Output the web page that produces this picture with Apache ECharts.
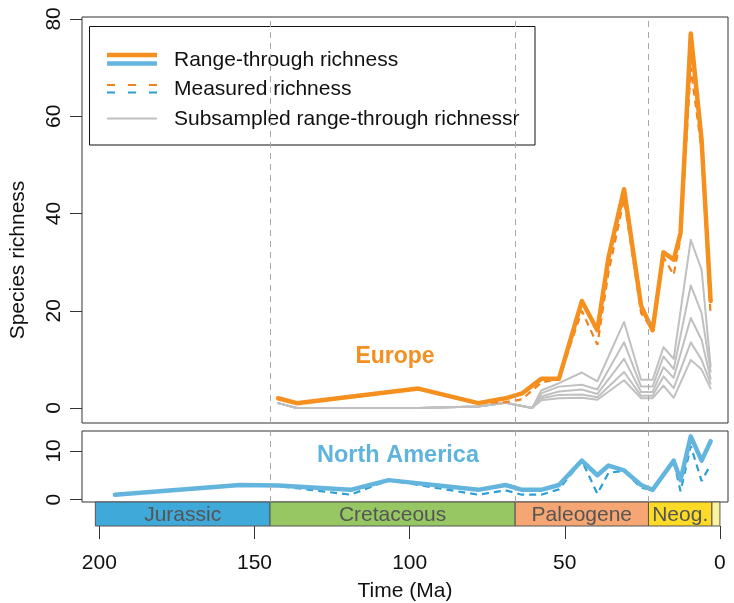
<!DOCTYPE html>
<html>
<head>
<meta charset="utf-8">
<script src="https://cdn.jsdelivr.net/npm/echarts@6/dist/echarts.min.js"></script>
<style>html,body{margin:0;padding:0;background:#fff}#c{width:734px;height:603px}</style>
</head>
<body>
<div id="c"></div>
<script>
// ---- data ----
const euAges = [142.4, 136.4, 97.2, 77.9, 69.1, 63.8, 57.6, 51.9, 44.5, 39.5, 35.9, 30.9, 25.4, 21.7, 18.2, 14.9, 12.7, 9.4, 5.9, 3.0];
const euRangeThrough = [2, 1, 4, 1, 2, 3, 6, 6, 22, 16, 31, 45, 21, 16, 32, 30.5, 36, 77, 55, 22];
const euMeasured = [2, 1, 4, 1, 1.2, 1.8, 5.2, 6, 20, 13, 28, 43, 19.5, 16, 31, 27.4, 35, 70, 53, 19];

const subAges = [142.4, 136.4, 97.2, 77.9, 69.1, 60.5, 57.6, 51.9, 44.5, 39.5, 30.9, 25.4, 21.7, 18.2, 14.9, 9.4, 5.9, 3.0];
const sub1 = [1.0, 0, 0, 0.3, 1.1, 0, 3.6, 5.1, 7.3, 5.5, 17.7, 5.8, 5.8, 12.5, 10.1, 34.6, 28.4, 8.5];
const sub2 = [1.0, 0, 0, 0.3, 1.1, 0, 3.0, 4.4, 4.8, 3.8, 13.5, 4.4, 4.4, 10.6, 8.0, 25.2, 19.5, 7.5];
const sub3 = [1.0, 0, 0, 0.3, 1.1, 0, 2.4, 3.4, 3.8, 2.9, 10.1, 3.3, 3.3, 8.4, 6.2, 18.5, 14.0, 6.0];
const sub4 = [1.0, 0, 0, 0.3, 1.1, 0, 2.0, 2.7, 2.8, 2.2, 7.4, 2.5, 2.5, 6.5, 4.1, 13.5, 9.9, 5.0];
const sub5 = [1.0, 0, 0, 0.3, 1.1, 0, 1.6, 2.0, 2.1, 1.7, 5.7, 2.0, 2.0, 4.6, 2.1, 9.9, 7.9, 4.0];

const naAges = [195.0, 154.7, 142.4, 119.0, 106.8, 77.9, 69.1, 63.8, 57.6, 51.9, 44.5, 39.5, 35.9, 30.9, 25.4, 21.7, 14.9, 12.7, 9.4, 5.9, 3.0];
const naRangeThrough = [1.0, 3.0, 2.9, 2.0, 4.0, 2.0, 3.0, 2.0, 2.0, 3.0, 8.0, 5.0, 7.0, 6.0, 3.0, 2.0, 8.0, 4.0, 13.0, 8.0, 12.0];
const naMeasured = [1.0, 3.0, 2.8, 1.0, 4.0, 1.0, 1.9, 1.0, 1.0, 2.1, 8.0, 1.2, 5.5, 5.9, 2.4, 2.0, 8.0, 1.7, 11.0, 3.8, 7.2];

const periodLabels = ['Jurassic', 'Cretaceous', 'Paleogene', 'Neog.', ''];
const periodStart = [201.3, 145, 66, 23.03, 2.58];
const periodEnd = [145, 66, 23.03, 2.58, 0];
const periodColors = ['#3FAADA', '#96C763', '#F6A672', '#FDDA26', '#FBF3A0'];

const boundaries = [145, 66, 23.03];
const xTicks = [200, 150, 100, 50, 0];
const euTicks = [0, 20, 40, 60, 80];
const naTicks = [0, 10];

// ---- styles ----
const FONT = '"Liberation Sans", Arial, Helvetica, sans-serif';
const ORANGE = '#F5901F', ORANGE_D = '#F08220';
const BLUE = '#64B5DE', BLUE_D = '#2B9ED8';
const GRAY = '#C0C0C0';
const zip = (a, b) => a.map((v, i) => [v, b[i]]);

const chart = echarts.init(document.getElementById('c'), null, {renderer: 'canvas'});

const xBase = (gi) => ({
  gridIndex: gi, type: 'value', inverse: true, min: -2.6, max: 205.6, position: 'bottom',
  splitLine: {show: false}, axisLine: {show: false, onZero: false}, axisTick: {show: false}, axisLabel: {show: false}
});

const vlines = {
  symbol: 'none', silent: true, label: {show: false},
  lineStyle: {type: [6, 5], color: '#A8A8A8', width: 1},
  data: boundaries.map(b => ({xAxis: b}))
};

const grayS = [sub1, sub2, sub3, sub4, sub5].map((s, k) => ({
  type: 'line', xAxisIndex: 0, yAxisIndex: 0, data: zip(subAges, s), showSymbol: false, z: 2,
  lineStyle: {color: GRAY, width: 2, join: 'round', cap: 'round'},
  markLine: k === 0 ? vlines : undefined
}));

const yAx = (gi, min, max, ticks) => ({
  gridIndex: gi, type: 'value', min: min, max: max, position: 'left',
  splitLine: {show: false}, axisLine: {show: false, onZero: false},
  axisTick: {show: true, length: 12, customValues: ticks, lineStyle: {color: '#333', width: 1}},
  axisLabel: {customValues: ticks, rotate: 90, margin: 17, fontSize: 21, color: '#111', fontFamily: FONT}
});

const option = {
  animation: false,
  grid: [
    {left: 82, top: 17, width: 646, height: 406, show: true, borderColor: '#333', borderWidth: 1, backgroundColor: 'transparent'},
    {left: 82, top: 431, width: 646, height: 71, show: true, borderColor: '#333', borderWidth: 1, backgroundColor: 'transparent'},
    {left: 82, top: 502, width: 646, height: 26, show: false}
  ],
  xAxis: [
    xBase(0), xBase(1),
    Object.assign(xBase(2), {
      axisTick: {show: true, length: 13, customValues: xTicks, lineStyle: {color: '#333', width: 1}},
      axisLabel: {show: true, customValues: xTicks, margin: 27, fontSize: 21, color: '#111', fontFamily: FONT},
      name: 'Time (Ma)', nameLocation: 'middle', nameGap: 55,
      nameTextStyle: {fontSize: 21, color: '#111', fontFamily: FONT}
    })
  ],
  yAxis: [
    yAx(0, -3.08, 80.4, euTicks),
    yAx(1, -0.5, 14.1, naTicks),
    {gridIndex: 2, type: 'value', min: 0, max: 1, show: false}
  ],
  series: [
    ...grayS,
    {type: 'line', xAxisIndex: 0, yAxisIndex: 0, data: zip(euAges, euMeasured), showSymbol: false, z: 3,
     lineStyle: {color: ORANGE_D, width: 2.2, type: [7, 5]}},
    {type: 'line', xAxisIndex: 0, yAxisIndex: 0, data: zip(euAges, euRangeThrough), showSymbol: false, z: 4,
     lineStyle: {color: ORANGE, width: 4.5, join: 'round', cap: 'round'}},
    {type: 'line', xAxisIndex: 1, yAxisIndex: 1, data: zip(naAges, naMeasured), showSymbol: false, z: 3,
     lineStyle: {color: BLUE_D, width: 2.2, type: [7, 5]}, markLine: vlines},
    {type: 'line', xAxisIndex: 1, yAxisIndex: 1, data: zip(naAges, naRangeThrough), showSymbol: false, z: 4,
     lineStyle: {color: BLUE, width: 4.5, join: 'round', cap: 'round'}},
    {type: 'custom', xAxisIndex: 2, yAxisIndex: 2, encode: {x: [0, 1]}, z: 2,
     data: periodStart.map((s, i) => [s, periodEnd[i], i]),
     renderItem: function (params, api) {
       const p0 = api.coord([api.value(0), 0]);
       const p1 = api.coord([api.value(1), 1]);
       const i = api.value(2);
       const x = Math.min(p0[0], p1[0]), w = Math.abs(p1[0] - p0[0]);
       const y = Math.min(p0[1], p1[1]), h = Math.abs(p1[1] - p0[1]);
       return {type: 'group', children: [
         {type: 'rect', shape: {x: x, y: y, width: w, height: h},
          style: {fill: periodColors[i], stroke: '#555', lineWidth: 1}},
         {type: 'text', style: {text: periodLabels[i], x: x + w / 2, y: y + h / 2 + 1,
          textAlign: 'center', textVerticalAlign: 'middle', font: '21px ' + FONT, fill: '#555'}}
       ]};
     }}
  ],
  graphic: [
    {type: 'text', x: 18, y: 260, rotation: Math.PI / 2,
     style: {text: 'Species richness', font: '21px ' + FONT, fill: '#111', textAlign: 'center', textVerticalAlign: 'middle'}},
    {type: 'text', x: 395, y: 357,
     style: {text: 'Europe', font: 'bold 23px ' + FONT, fill: '#F39021', textAlign: 'center', textVerticalAlign: 'middle'}},
    {type: 'text', x: 398, y: 456,
     style: {text: 'North America', font: 'bold 23.5px ' + FONT, fill: '#5FB3DD', textAlign: 'center', textVerticalAlign: 'middle'}},
    {type: 'group', z: 100, children: [
      {type: 'rect', shape: {x: 89.5, y: 26.5, width: 445.5, height: 118.5}, style: {fill: '#fff', stroke: '#111', lineWidth: 1}},
      {type: 'line', shape: {x1: 107, y1: 55, x2: 157, y2: 55}, style: {stroke: ORANGE, lineWidth: 4.5}},
      {type: 'line', shape: {x1: 107, y1: 63.5, x2: 157, y2: 63.5}, style: {stroke: BLUE, lineWidth: 4.5}},
      {type: 'line', shape: {x1: 107, y1: 85, x2: 157, y2: 85}, style: {stroke: ORANGE_D, lineWidth: 2.2, lineDash: [8, 13]}},
      {type: 'line', shape: {x1: 107, y1: 92.5, x2: 157, y2: 92.5}, style: {stroke: BLUE_D, lineWidth: 2.2, lineDash: [8, 13]}},
      {type: 'line', shape: {x1: 107, y1: 118.5, x2: 157, y2: 118.5}, style: {stroke: GRAY, lineWidth: 2}},
      {type: 'text', x: 174, y: 60, style: {text: 'Range-through richness', font: '21px ' + FONT, fill: '#111', textVerticalAlign: 'middle'}},
      {type: 'text', x: 174, y: 89.5, style: {text: 'Measured richness', font: '21px ' + FONT, fill: '#111', textVerticalAlign: 'middle'}},
      {type: 'text', x: 174, y: 119, style: {text: 'Subsampled range-through richnessr', font: '21px ' + FONT, fill: '#111', textVerticalAlign: 'middle'}}
    ]}
  ]
};
chart.setOption(option);
</script>
</body>
</html>
